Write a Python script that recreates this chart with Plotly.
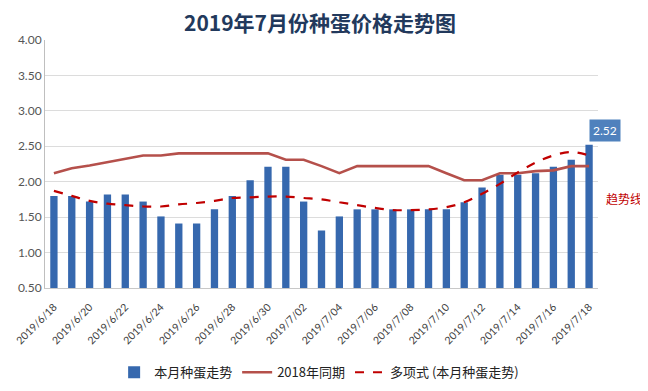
import plotly.graph_objects as go

dates = ["2019/6/18", "2019/6/19", "2019/6/20", "2019/6/21", "2019/6/22", "2019/6/23",
         "2019/6/24", "2019/6/25", "2019/6/26", "2019/6/27", "2019/6/28", "2019/6/29",
         "2019/6/30", "2019/7/01", "2019/7/02", "2019/7/03", "2019/7/04", "2019/7/05",
         "2019/7/06", "2019/7/07", "2019/7/08", "2019/7/09", "2019/7/10", "2019/7/11",
         "2019/7/12", "2019/7/13", "2019/7/14", "2019/7/15", "2019/7/16", "2019/7/17",
         "2019/7/18"]
tick_labels = dates[::2]

price_2019 = [1.80, 1.80, 1.72, 1.82, 1.82, 1.72, 1.51, 1.41, 1.41, 1.61, 1.80, 2.02,
              2.21, 2.21, 1.72, 1.31, 1.51, 1.61, 1.61, 1.61, 1.61, 1.61, 1.61, 1.71,
              1.92, 2.10, 2.10, 2.12, 2.21, 2.31, 2.52]
price_2018 = [2.12, 2.19, 2.23, 2.28, 2.33, 2.37, 2.37, 2.40, 2.40, 2.40, 2.40, 2.40,
              2.40, 2.31, 2.31, 2.22, 2.12, 2.22, 2.22, 2.22, 2.22, 2.22, 2.12, 2.02,
              2.02, 2.12, 2.12, 2.15, 2.16, 2.22, 2.22]
trend_2019 = [1.87, 1.80, 1.73, 1.69, 1.67, 1.65, 1.65, 1.68, 1.70, 1.73, 1.77, 1.78,
              1.79, 1.79, 1.77, 1.75, 1.71, 1.67, 1.63, 1.60, 1.60, 1.61, 1.64, 1.71,
              1.83, 1.97, 2.13, 2.27, 2.37, 2.42, 2.37]

FONT = "Lato, 'Noto Sans CJK SC', sans-serif"
CJK = "'Noto Sans CJK SC', sans-serif"

fig = go.Figure()
fig.add_trace(go.Bar(x=dates, y=price_2019, name="本月种蛋走势",
                     marker=dict(color="#3668AE", line=dict(width=0))))
fig.add_trace(go.Scatter(x=dates, y=price_2018, name="2018年同期", mode="lines",
                         line=dict(color="#B5504B", width=2.6)))
fig.add_trace(go.Scatter(x=dates, y=trend_2019, name="多项式 (本月种蛋走势)", mode="lines",
                         line=dict(color="#C00000", width=2.2, dash="dash", shape="spline")))

fig.add_annotation(x=dates[-1], y=price_2019[-1], text="2.52", showarrow=False,
                   xanchor="center", yanchor="bottom", xshift=16, yshift=3,
                   bgcolor="#4F81BD", borderpad=3,
                   font=dict(color="white", size=12, family=FONT))
fig.add_annotation(xref="paper", yref="paper", x=1.012, y=0.36, text="趋势线",
                   showarrow=False, xanchor="left", yanchor="middle", borderpad=0,
                   font=dict(color="#C00000", size=12, family=CJK))

# page body adds an 8px margin, so the figure is 8px smaller and margins shifted
fig.update_layout(
    width=640, height=383,
    margin=dict(l=37, r=50, t=32, b=103, autoexpand=False),
    paper_bgcolor="white", plot_bgcolor="white",
    title=dict(text="<b>2019年7月份种蛋价格走势图</b>", x=0.4875, xanchor="center",
               y=0.958, yanchor="middle",
               font=dict(family=CJK, size=21, color="#22395C")),
    bargap=0.59,
    showlegend=True,
    legend=dict(orientation="h", x=0.125, xanchor="left", y=-0.34, yanchor="middle",
                font=dict(family=CJK, size=13, color="#222"), itemwidth=30,
                traceorder="normal"),
    font=dict(family=FONT),
)
fig.update_xaxes(type="category", tickmode="array", tickvals=tick_labels, ticktext=tick_labels,
                 tickangle=-45, tickfont=dict(size=10.5, color="#404040", family=FONT),
                 showline=True, linecolor="#C8C8C8", linewidth=1, showgrid=False,
                 ticks="", ticklabelstandoff=8, automargin=False,
                 range=[-0.5, len(dates) - 0.5])
fig.update_yaxes(range=[0.5, 4.0], dtick=0.5, tick0=0.5, tickformat=".2f",
                 tickfont=dict(size=12, color="#555", family=FONT),
                 showgrid=True, gridcolor="#DCDCDC", gridwidth=1,
                 showline=True, linecolor="#BFBFBF", linewidth=1,
                 zeroline=False, ticks="", automargin=False)

fig.write_html("out.html")
